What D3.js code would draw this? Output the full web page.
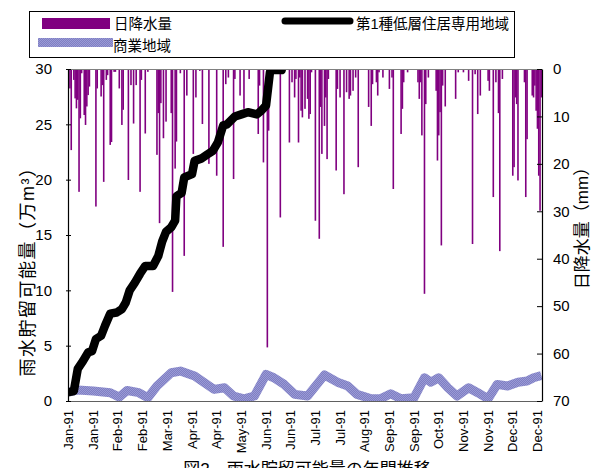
<!DOCTYPE html>
<html>
<head>
<meta charset="utf-8">
<script src="https://cdn.jsdelivr.net/npm/d3@7"></script>
<style>
  body { margin: 0; background: #fff; }
  text { font-family: "Liberation Sans", "Noto Sans CJK JP", sans-serif; }
</style>
</head>
<body>
<svg id="chart"></svg>
<script>
let w = 592;
let h = 468;

// day of year (0 = 1 Jan 1991) and daily rain (mm); days not listed had no rain
const rainDays = [1,2,4,5,6,7,8,9,10,12,13,14,15,16,21,22,25,26,27,29,30,32,33,35,36,39,41,42,46,48,50,52,55,56,59,61,
  68,69,70,71,73,75,79,80,82,83,86,89,91,96,98,101,103,108,114,119,121,123,127,128,132,135,139,146,147,150,153,154,
  163,170,172,174,175,177,178,179,180,182,184,185,186,187,190,193,194,195,197,198,199,200,206,207,209,212,214,216,
  217,219,221,223,231,233,234,237,238,239,242,247,249,250,256,257,258,261,269,270,271,272,274,275,277,283,284,285,
  286,287,288,290,298,300,304,308,311,313,315,317,323,324,327,329,331,332,334,342,343,344,345,346,351,352,353,357,
  358,359,360,361,362,363,364];
const rainMm = [4.1,17.1,2.3,6.2,8.3,6.5,25.9,10.4,0.9,9.7,11.8,7.9,5.5,3.7,29,4.1,5.8,3.4,23.8,2.3,1.3,16,15.4,0.6,0.6,4.1,11.8,8.6,23.4,3.4,11.5,3.4,25.9,2.3,13.6,0.6,
  18.1,9.3,32.5,7.2,14.6,11.1,9.3,47,21,15.3,0.9,39.4,5.6,17.9,6,0.4,11.6,20,22.5,37.5,3.2,1.8,23.2,2.1,5.6,8.4,2.1,13.7,3.5,19.7,58.7,13,
  31.3,15.5,2.8,6,2.1,15.5,1.8,8.8,10.2,8.4,6.3,10.5,9.5,0.7,32,35.8,8,17.9,12,6,19,2.1,21.4,4.2,6,26.4,4.9,6.3,
  5.6,4.6,1.8,20.7,8,12,3.2,2.8,5.6,0.7,1.8,4.2,1.8,25.3,13.7,8.4,2.8,0.7,2.8,6.3,2.8,14,47.4,7.4,1.8,4.6,19.3,14,
  9.1,37.2,3.5,7.9,6.3,0.7,0.7,2.5,36.9,1.1,9.5,5.6,2.5,4.6,27,2.8,9.3,38.4,2.1,22.5,20.7,6,7.4,23.5,2.8,27,14.8,5.6,
  6,3.5,8.8,12.6,22.5,29.9,6];

// 第1種低層住居専用地域 (万m3), read at turning points
const resDays = [0,4,7,11,15,18,21,25,28,32,37,41,44,47,51,55,59,65,69,72,75,79,82,83,87,89,95,97,102,107,111,115,119,122,128,133,138,145,148,152,155,157,164,166];
const resVals = [0.8,0.9,2.9,3.6,4.4,4.5,5.6,5.9,6.8,7.9,8.0,8.3,8.9,10.0,10.7,11.5,12.2,12.2,13.1,14.4,15.3,15.7,16.3,18.5,18.8,20.2,20.5,21.7,21.9,22.3,22.6,23.4,24.9,25.0,25.7,25.9,26.1,25.9,26.2,26.7,29.7,29.9,29.9,31];

// 商業地域 (万m3)
const comDays = [0,7,19,32,39,45,54,61,68,79,86,97,104,112,120,127,135,143,152,158,166,174,184,197,207,215,222,233,240,248,256,266,274,279,285,292,299,308,315,323,330,338,346,353,358,364];
const comVals = [0.8,1.0,0.9,0.75,0.35,0.95,0.75,0.3,1.35,2.55,2.7,2.25,1.7,1.05,1.2,0.45,0.2,0.45,2.4,2.1,1.5,0.6,0.45,2.35,1.7,1.35,0.6,0.2,0.2,0.65,0.2,0.3,2.1,1.7,2.1,1.2,0.45,1.2,0.75,0.2,1.5,1.35,1.7,1.8,2.1,2.3];

const leftTicks = [0,5,10,15,20,25,30];
const rightTicks = [0,10,20,30,40,50,60,70];
const dateLabels = ["Jan-91","Jan-91","Feb-91","Feb-91","Mar-91","Apr-91","Apr-91","May-91","Jun-91","Jun-91",
  "Jul-91","Jul-91","Aug-91","Sep-91","Sep-91","Oct-91","Nov-91","Nov-91","Dec-91","Dec-91"];
const labelStep = 19;

const legendNames = ["日降水量","第1種低層住居専用地域","商業地域"];
const leftTitle = "雨水貯留可能量（万m³）";
const rightTitle = "日降水量（mm）";
const figTitle = "図2　雨水貯留可能量の年間推移";

function createChart() {
    const chart = d3.select('#chart')
        .attr('width', w)
        .attr('height', h)

    const pl = 68, pr = 542, pt = 69, pb = 401;

    const x = d3.scaleLinear().domain([0, 365]).range([pl, pr]);
    const yL = d3.scaleLinear().domain([0, 30]).range([pb, pt]);
    const yR = d3.scaleLinear().domain([0, 70]).range([pt, pb]);

    const defs = chart.append('defs');
    const pat = defs.append('pattern')
        .attr('id', 'lav')
        .attr('width', 2).attr('height', 2)
        .attr('patternUnits', 'userSpaceOnUse');
    pat.append('rect').attr('width', 2).attr('height', 2).attr('fill', '#7f7fc2');
    pat.append('rect').attr('width', 1).attr('height', 1).attr('fill', '#9a9ad6');
    pat.append('rect').attr('x', 1).attr('y', 1).attr('width', 1).attr('height', 1).attr('fill', '#9a9ad6');

    defs.append('clipPath').attr('id', 'plot')
        .append('rect')
        .attr('x', pl).attr('y', pt)
        .attr('width', pr - pl).attr('height', pb - pt);

    // figure caption, mostly hidden under the date labels
    chart.append('text')
        .attr('x', 307)
        .attr('y', 475)
        .attr('text-anchor', 'middle')
        .style('font-size', '17px')
        .text(figTitle);

    const g = chart.append('g').attr('clip-path', 'url(#plot)');

    g.selectAll('rect.rain')
        .data(rainDays.map((d, i) => ({ day: d, mm: rainMm[i] })))
        .enter()
        .append('rect')
        .attr('class', 'rain')
        .attr('x', d => x(d.day + 0.5) - 0.8)
        .attr('y', yR(0))
        .attr('width', 1.6)
        .attr('height', d => yR(d.mm) - yR(0))
        .style('fill', '#800080')

    const line = d3.line()
        .x(d => x(d[0] + 0.5))
        .y(d => yL(d[1]))

    g.append('path')
        .datum(comDays.map((d, i) => [d, comVals[i]]))
        .attr('d', line)
        .style('fill', 'none')
        .style('stroke', 'url(#lav)')
        .style('stroke-width', 9)
        .style('stroke-linejoin', 'round')

    g.append('path')
        .datum(resDays.map((d, i) => [d, resVals[i]]))
        .attr('d', line)
        .style('fill', 'none')
        .style('stroke', '#000')
        .style('stroke-width', 8.5)
        .style('stroke-linejoin', 'round')
        .style('stroke-linecap', 'round')

    // plot frame
    chart.append('line').attr('x1', pl).attr('x2', pr).attr('y1', pt + 0.5).attr('y2', pt + 0.5)
        .style('stroke', '#808080');
    chart.append('line').attr('x1', pl).attr('x2', pr).attr('y1', pb + 0.5).attr('y2', pb + 0.5)
        .style('stroke', '#606060');

    const axL = chart.append('g')
        .attr('transform', `translate(${pl},0)`)
        .call(d3.axisLeft(yL).tickValues(leftTicks).tickSizeInner(2).tickSizeOuter(0).tickPadding(14));
    axL.selectAll('.tick line').attr('x1', 3);

    const axR = chart.append('g')
        .attr('transform', `translate(${pr},0)`)
        .call(d3.axisRight(yR).tickValues(rightTicks).tickSizeInner(-5).tickSizeOuter(0).tickPadding(11));

    [axL, axR].forEach(a => {
        a.select('.domain').style('stroke', '#000').style('stroke-width', 1.2);
        a.selectAll('text').style('font-size', '15px').style('fill', '#000');
    });

    // rotated date labels every 19 days
    chart.selectAll('text.date')
        .data(dateLabels)
        .enter()
        .append('text')
        .attr('class', 'date')
        .attr('transform', (d, i) => `translate(${x(i * labelStep + 0.5) + 4.5},${pb + 9}) rotate(-90)`)
        .attr('text-anchor', 'end')
        .style('font-size', '13px')
        .text(d => d)

    chart.append('text')
        .attr('transform', 'translate(34,267) rotate(-90)')
        .attr('text-anchor', 'middle')
        .style('font-size', '18px')
        .style('letter-spacing', '1.5px')
        .text(leftTitle)

    chart.append('text')
        .attr('transform', 'translate(588,224) rotate(-90)')
        .attr('text-anchor', 'middle')
        .style('font-size', '17px')
        .text(rightTitle)

    // legend
    const lg = chart.append('g');
    lg.append('rect')
        .attr('x', 29.5).attr('y', 11.5)
        .attr('width', 485).attr('height', 46)
        .style('fill', '#fff').style('stroke', '#000');
    lg.append('rect').attr('x', 42).attr('y', 18).attr('width', 68).attr('height', 11).style('fill', '#800080');
    lg.append('line').attr('x1', 285).attr('x2', 350).attr('y1', 21).attr('y2', 21)
        .style('stroke', '#000').style('stroke-width', 7).style('stroke-linecap', 'round');
    lg.append('rect').attr('x', 38).attr('y', 38).attr('width', 75).attr('height', 9).style('fill', 'url(#lav)');
    lg.selectAll('text')
        .data(legendNames)
        .enter()
        .append('text')
        .attr('x', (d, i) => [114, 356, 113][i])
        .attr('y', (d, i) => [29, 29, 51][i])
        .style('font-size', '14.5px')
        .text(d => d)
}

createChart();
</script>
</body>
</html>
